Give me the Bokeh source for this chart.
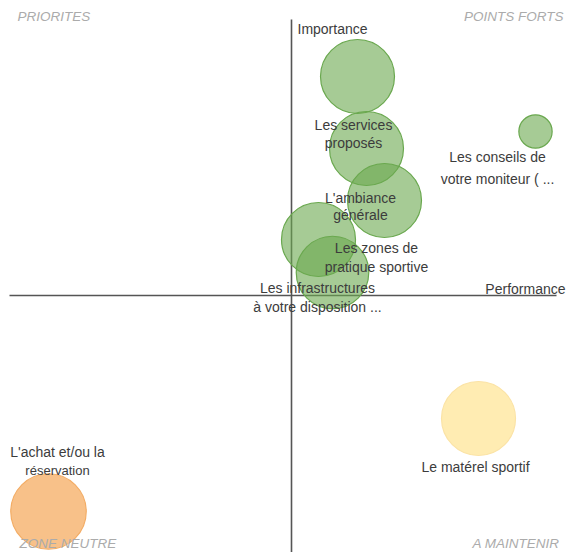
from bokeh.plotting import figure
from bokeh.models import ColumnDataSource, Range1d, Label
from bokeh.core.properties import value
from bokeh.embed import file_html
from bokeh.resources import INLINE

# ---- data (performance, importance) ----
items = [
    "",
    "Les services\nproposés",
    "L'ambiance\ngénérale",
    "Les zones de\npratique sportive",
    "Les infrastructures\nà votre disposition ...",
    "Les conseils de\nvotre moniteur ( ...",
    "Le matérel sportif",
    "L'achat et/ou la\nréservation",
]
performance = [0.66, 0.75, 0.93, 0.27, 0.41, 2.44, 1.87, -2.43]
importance = [2.19, 1.47, 0.95, 0.56, 0.23, 1.64, -1.23, -2.16]
weight = [1.0, 1.0, 1.0, 1.0, 0.98, 0.45, 1.0, 1.02]
group = ["fort", "fort", "fort", "fort", "fort", "fort", "maintenir", "neutre"]
quadrants = ["PRIORITES", "POINTS FORTS", "ZONE NEUTRE", "A MAINTENIR"]

# ---- styling ----
FONT = "Liberation Sans"
fill = {"fort": "#6aa84f", "maintenir": "#ffd966", "neutre": "#f6b26b"}
fill_alpha = {"fort": 0.6, "maintenir": 0.5, "neutre": 0.8}
line = {"fort": "#6aa84f", "maintenir": "#fbe3a6", "neutre": "#f3ad66"}
# label offsets (px) from bubble centre: dx, dy of first line, line spacing
label_off = [(0, 0), (-13, -24), (-24, -3), (58, 8), (-15, 15), (-38, 25), (-3, 48), (9, -60)]
line_gap = [18, 18, 17, 19, 19, 22, 18, 19]
R = 0.37

W, H = 566, 552
p = figure(width=W, height=H, output_backend="svg", toolbar_location=None,
           x_range=Range1d(-2.91, 2.75), y_range=Range1d(-2.57, 2.95),
           min_border=0, outline_line_color=None, background_fill_color="white")
p.xaxis.visible = False
p.yaxis.visible = False
p.xgrid.visible = False
p.ygrid.visible = False

# axes lines
p.segment(x0=[0], y0=[-2.7], x1=[0], y1=[2.76], line_color="#555555", line_width=1.6)
p.segment(x0=[-2.82], y0=[0], x1=[2.65], y1=[0], line_color="#555555", line_width=1.6)

src = ColumnDataSource(dict(
    x=performance, y=importance, r=[w * R for w in weight],
    fc=[fill[g] for g in group], fa=[fill_alpha[g] for g in group],
    lc=[line[g] for g in group]))
p.circle(x="x", y="y", radius="r", source=src, fill_color="fc", fill_alpha="fa",
         line_color="lc", line_width=1.2)

# labels
tx, ty, tt, xo, yo, fs = [], [], [], [], [], []
for i, lab in enumerate(items):
    if not lab:
        continue
    dx, dy = label_off[i]
    for k, ln in enumerate(lab.split("\n")):
        tx.append(performance[i]); ty.append(importance[i]); tt.append(ln)
        xo.append(dx); yo.append(dy + k * line_gap[i])
        fs.append("14px" if k == 0 or i != 7 else "13px")
lsrc = ColumnDataSource(dict(x=tx, y=ty, t=tt, xo=xo, yo=yo, fs=fs))
p.text(x="x", y="y", text="t", x_offset="xo", y_offset="yo", source=lsrc,
       text_font=value(FONT), text_font_size="fs", text_color="#3c3c3c",
       text_align="center", text_baseline="middle")

# axis titles
p.add_layout(Label(x=297, y=H - 28, x_units="screen", y_units="screen", text="Importance",
                   text_font=FONT, text_font_size="14px", text_color="#3c3c3c",
                   text_baseline="middle", text_align="left"))
p.add_layout(Label(x=W - 1, y=H - 288, x_units="screen", y_units="screen", text="Performance",
                   text_font=FONT, text_font_size="14px", text_color="#3c3c3c",
                   text_baseline="middle", text_align="right"))

# quadrant labels
qpos = [(17, H - 16, "left"), (563, H - 16, "right"), (19, 9, "left"), (559, 9, "right")]
for q, (qx, qy, al) in zip(quadrants, qpos):
    p.add_layout(Label(x=qx, y=qy, x_units="screen", y_units="screen", text=q,
                       text_font=FONT, text_font_size="13.5px", text_font_style="italic",
                       text_color="#ababab", text_baseline="middle", text_align=al))

open("out.html", "w").write(file_html(p, INLINE))
